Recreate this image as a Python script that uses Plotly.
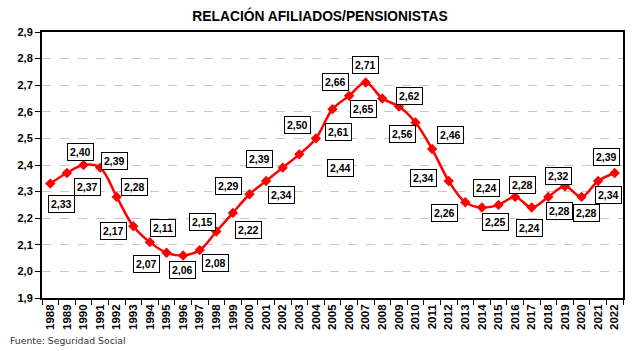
import plotly.graph_objects as go

years = [str(y) for y in range(1988, 2023)]
values = [2.33, 2.37, 2.40, 2.39, 2.28, 2.17, 2.11, 2.07, 2.06, 2.08,
          2.15, 2.22, 2.29, 2.34, 2.39, 2.44, 2.50, 2.61, 2.66, 2.71,
          2.65, 2.62, 2.56, 2.46, 2.34, 2.26, 2.24, 2.25, 2.28, 2.24,
          2.28, 2.32, 2.28, 2.34, 2.37]
labels = ["2,33", "2,37", "2,40", "2,39", "2,28", "2,17", "2,11", "2,07", "2,06", "2,08",
          "2,15", "2,22", "2,29", "2,34", "2,39", "2,44", "2,50", "2,61", "2,66", "2,71",
          "2,65", "2,62", "2,56", "2,46", "2,34", "2,26", "2,24", "2,25", "2,28", "2,24",
          "2,28", "2,32", "2,28", "2,34", "2,39"]
# label offsets in pixels (dx, dy; dy positive = up)
offsets = [(11, -20), (21, -14), (-3, 13), (14, 7), (18, 10), (-20, -5), (13, 14), (-20, -11),
           (-1, -15), (16, -13), (-14, 10), (16, -17), (-21, 8), (15, -14), (-23, 9), (41, -14),
           (-18, 13), (6, -23), (-14, 14), (0, 18), (-19, -10), (11, 10), (-13, -12), (18, 14),
           (-25, 3), (-21, -11), (5, 20), (-3, -17), (7, 12), (-2, -20), (11, -14), (-6, 10),
           (5, -16), (10, -14), (-8, 16)]

fig = go.Figure()
fig.add_trace(go.Scatter(
    x=years, y=values, mode="lines+markers",
    line=dict(color="#FF0000", width=2.5, shape="spline"),
    marker=dict(symbol="diamond", size=8, color="#FF0000"),
    hoverinfo="skip", showlegend=False))

for i, (v, t, (dx, dy)) in enumerate(zip(values, labels, offsets)):
    fig.add_annotation(x=i, y=v, xref="x", yref="y", text="<b>" + t + "</b>",
                       showarrow=False, xshift=dx, yshift=dy,
                       font=dict(family="Liberation Sans, Arial", size=10.5, color="black"),
                       bgcolor="white", bordercolor="black", borderwidth=1, borderpad=2)

fig.add_annotation(x=-0.0585, y=-0.158, xref="paper", yref="paper", xanchor="left", yanchor="middle",
                   text="Fuente: Seguridad Social", showarrow=False,
                   font=dict(family="DejaVu Sans", size=9.3, color="#333"))

fig.update_layout(
    width=640, height=351,
    margin=dict(l=42, r=17, t=32, b=53),
    paper_bgcolor="white", plot_bgcolor="white",
    separators=",.",
    title=dict(text="<b>RELACIÓN AFILIADOS/PENSIONISTAS</b>", x=0.5, xanchor="center",
               y=0.955, yanchor="middle",
               font=dict(family="Liberation Sans, Arial", size=13.8, color="black")),
)
fig.update_xaxes(type="category", range=[-0.5, 34.5], tickangle=-90,
                 tickson="boundaries", ticks="outside", ticklen=5, tickcolor="black",
                 showline=True, linecolor="black", linewidth=1.5, mirror=True,
                 showgrid=False,
                 tickfont=dict(family="Liberation Sans, Arial", size=11.5, color="black", weight="bold"))
fig.update_yaxes(range=[1.9, 2.9], dtick=0.1, tickformat=".1f",
                 ticks="outside", ticklen=5, tickcolor="black",
                 showline=True, linecolor="black", linewidth=2, mirror=True,
                 showgrid=True, gridcolor="#c8c8c8", griddash="dash", gridwidth=1,
                 zeroline=False,
                 tickfont=dict(family="Liberation Sans, Arial", size=11, color="black", weight="bold"))

fig.write_html("out.html")
